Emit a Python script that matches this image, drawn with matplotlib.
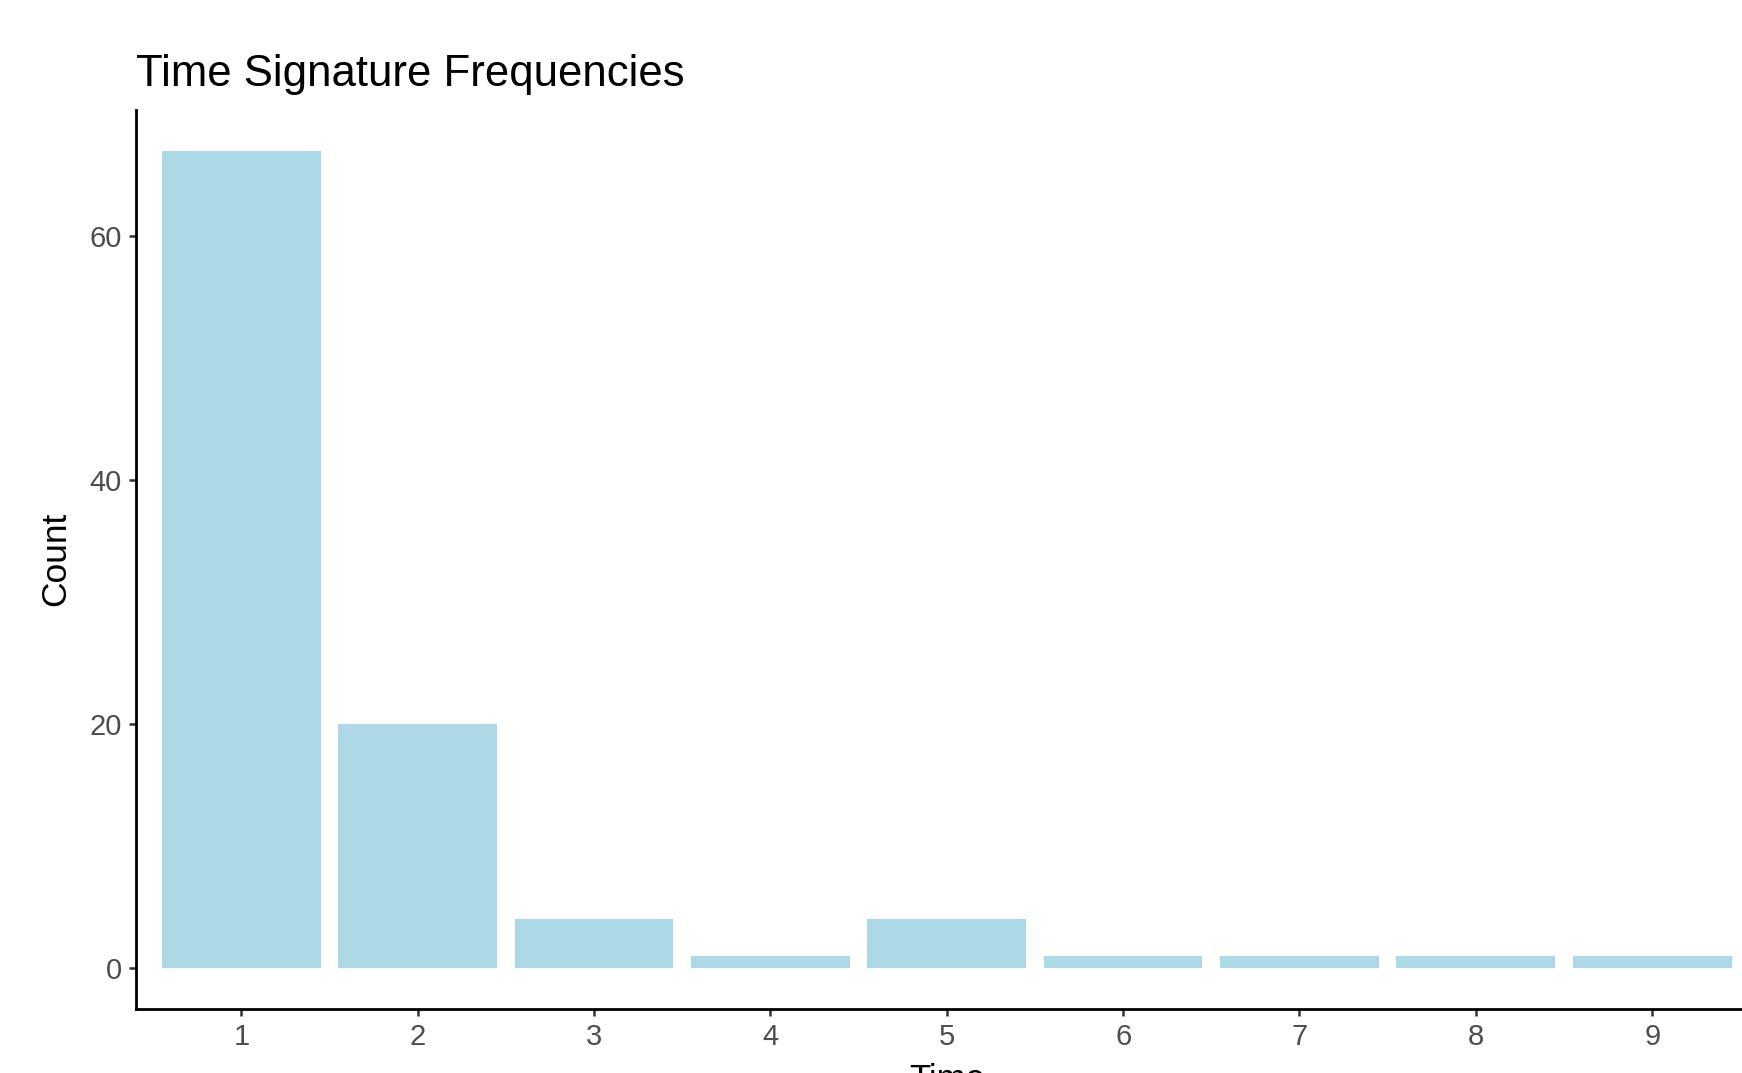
import matplotlib
matplotlib.use("Agg")
import matplotlib.pyplot as plt

categories = ["1", "2", "3", "4", "5", "6", "7", "8", "9"]
counts = [67, 20, 4, 1, 4, 1, 1, 1, 1]
yticks = [0, 20, 40, 60]

plt.rcParams['font.family'] = ['Liberation Sans', 'DejaVu Sans']

fig = plt.figure(figsize=(17.42, 10.73), dpi=100)
ax = fig.add_axes([0.0778, 0.0598, 0.9314, 0.838])

xpos = list(range(1, len(categories) + 1))
ax.bar(xpos, counts, width=0.9, color="#ADD8E6", edgecolor="none")

ax.set_xlim(0.4, len(categories) + 0.6)
ymax = max(counts)
ax.set_ylim(-0.05 * ymax, ymax * 1.05)
ax.set_xticks(xpos)
ax.set_xticklabels(categories)
ax.set_yticks(yticks)

for s in ["top", "right"]:
    ax.spines[s].set_visible(False)
for s in ["left", "bottom"]:
    ax.spines[s].set_linewidth(2.0)
    ax.spines[s].set_color("black")

ax.tick_params(axis="both", length=5, width=1.8, color="#333333",
               labelsize=21, labelcolor="#4D4D4D", pad=5)

ax.set_title("Time Signature Frequencies", loc="left", fontsize=31.5, pad=17)
ax.set_xlabel("Time", fontsize=25)
ax.set_ylabel("Count", fontsize=25.5)
ax.yaxis.label.set_va("center")
ax.xaxis.set_label_coords(0.5, -0.0603)
ax.yaxis.set_label_coords(-0.0493, 0.5)

fig.savefig("out.png", dpi=100)
